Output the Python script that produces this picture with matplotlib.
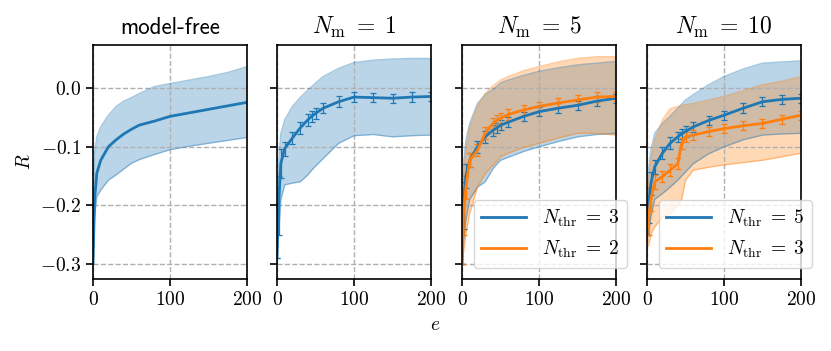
import numpy as np
import matplotlib
matplotlib.use("Agg")
import matplotlib.pyplot as plt

plt.rcParams["mathtext.fontset"] = "cm"
plt.rcParams["font.family"] = "serif"
plt.rcParams["font.serif"] = ["cmr10", "DejaVu Serif"]
plt.rcParams["axes.formatter.use_mathtext"] = True
plt.rcParams["axes.unicode_minus"] = True

E = [0, 2, 5, 10, 20, 30, 40, 45, 50, 60, 80, 100, 125, 150, 175, 200]

# model-free
mf_mean = [-0.30, -0.19, -0.145, -0.123, -0.100, -0.088, -0.078, -0.074, -0.070, -0.063, -0.056, -0.048, -0.042, -0.036, -0.030, -0.024]
mf_up = [-0.30, -0.11, -0.083, -0.066, -0.046, -0.031, -0.022, -0.019, -0.016, -0.009, 0.003, 0.008, 0.014, 0.020, 0.027, 0.037]
mf_lo = [-0.30, -0.22, -0.185, -0.174, -0.157, -0.148, -0.138, -0.133, -0.128, -0.122, -0.113, -0.105, -0.099, -0.094, -0.089, -0.084]

# N_m = 1
m1_mean = [-0.29, -0.20, -0.128, -0.103, -0.085, -0.068, -0.054, -0.048, -0.043, -0.034, -0.023, -0.015, -0.016, -0.017, -0.015, -0.014]
m1_err = [0.0, 0.05, 0.025, 0.012, 0.010, 0.010, 0.010, 0.010, 0.010, 0.009, 0.009, 0.008, 0.008, 0.008, 0.008, 0.008]
m1_up = [-0.29, -0.13, -0.077, -0.054, -0.031, -0.016, -0.003, 0.003, 0.009, 0.020, 0.034, 0.044, 0.048, 0.050, 0.051, 0.051]
m1_lo = [-0.29, -0.25, -0.19, -0.165, -0.162, -0.160, -0.148, -0.140, -0.133, -0.120, -0.094, -0.081, -0.079, -0.083, -0.081, -0.080]

# N_m = 5 (thr 3 blue, thr 2 orange)
m5a_mean = [-0.30, -0.20, -0.150, -0.123, -0.100, -0.083, -0.072, -0.068, -0.063, -0.058, -0.048, -0.040, -0.034, -0.029, -0.022, -0.017]
m5a_up = [-0.30, -0.13, -0.089, -0.060, -0.026, -0.011, -0.002, 0.003, 0.009, 0.014, 0.022, 0.029, 0.035, 0.040, 0.043, 0.046]
m5a_lo = [-0.30, -0.26, -0.226, -0.190, -0.169, -0.160, -0.138, -0.130, -0.123, -0.118, -0.108, -0.100, -0.091, -0.083, -0.079, -0.077]
m5b_mean = [-0.30, -0.21, -0.170, -0.123, -0.106, -0.077, -0.060, -0.055, -0.051, -0.045, -0.037, -0.031, -0.025, -0.020, -0.015, -0.014]
m5b_up = [-0.30, -0.15, -0.106, -0.066, -0.031, -0.009, 0.004, 0.009, 0.014, 0.020, 0.030, 0.037, 0.045, 0.051, 0.054, 0.054]
m5b_lo = [-0.30, -0.28, -0.250, -0.214, -0.169, -0.146, -0.132, -0.125, -0.117, -0.111, -0.101, -0.094, -0.085, -0.077, -0.077, -0.080]
m5_err = [0.0, 0.04, 0.02, 0.012, 0.010, 0.010, 0.009, 0.009, 0.009, 0.009, 0.008, 0.008, 0.008, 0.008, 0.008, 0.008]

# N_m = 10 (thr 5 blue, thr 3 orange)
m10a_mean = [-0.25, -0.20, -0.163, -0.134, -0.111, -0.094, -0.083, -0.078, -0.074, -0.066, -0.055, -0.046, -0.034, -0.023, -0.019, -0.017]
m10a_up = [-0.25, -0.14, -0.106, -0.077, -0.060, -0.048, -0.034, -0.027, -0.020, -0.011, 0.006, 0.020, 0.033, 0.043, 0.045, 0.047]
m10a_lo = [-0.25, -0.25, -0.220, -0.190, -0.180, -0.169, -0.157, -0.150, -0.143, -0.129, -0.112, -0.100, -0.088, -0.080, -0.078, -0.077]
m10b_mean = [-0.25, -0.22, -0.190, -0.160, -0.151, -0.140, -0.129, -0.094, -0.083, -0.080, -0.074, -0.069, -0.064, -0.060, -0.053, -0.046]
m10b_up = [-0.25, -0.16, -0.123, -0.089, -0.054, -0.035, -0.031, -0.029, -0.028, -0.026, -0.020, -0.014, -0.004, 0.006, 0.012, 0.020]
m10b_lo = [-0.25, -0.27, -0.250, -0.237, -0.220, -0.214, -0.200, -0.190, -0.157, -0.140, -0.135, -0.131, -0.127, -0.123, -0.117, -0.111]
m10_err = [0.0, 0.03, 0.02, 0.012, 0.010, 0.010, 0.009, 0.009, 0.009, 0.009, 0.008, 0.008, 0.008, 0.008, 0.008, 0.008]

C0, C1 = "#1f77b4", "#ff7f0e"
EB = dict(lw=2, elinewidth=0.9, capsize=2.5, capthick=0.9)


def band(ax, up, lo, color):
    ax.fill_between(E, lo, up, color=color, alpha=0.3, lw=0)
    ax.plot(E, up, color=color, alpha=0.4, lw=1)
    ax.plot(E, lo, color=color, alpha=0.4, lw=1)


fig = plt.figure(figsize=(8.31, 3.51), dpi=100)
lefts = [93, 277, 462, 647]
axes = []
for i, l in enumerate(lefts):
    ax = fig.add_axes([l / 831, 72 / 351, 154 / 831, 234 / 351],
                      sharey=axes[0] if axes else None)
    axes.append(ax)

ax = axes[0]
band(ax, mf_up, mf_lo, C0)
ax.plot(E, mf_mean, color=C0, lw=2)
ax.set_title("model-free", family="cmss10", fontsize=16.5, pad=8)
ax.set_ylabel("$R$", fontsize=14)

ax = axes[1]
band(ax, m1_up, m1_lo, C0)
ax.errorbar(E, m1_mean, yerr=m1_err, color=C0, **EB)
ax.set_title(r"$N_\mathrm{m}\;=\;1$", fontsize=17, pad=8)

ax = axes[2]
band(ax, m5a_up, m5a_lo, C0)
band(ax, m5b_up, m5b_lo, C1)
ax.errorbar(E, m5a_mean, yerr=m5_err, color=C0, label=r"$N_\mathrm{thr}\;=\;3$", **EB)
ax.errorbar(E, m5b_mean, yerr=m5_err, color=C1, label=r"$N_\mathrm{thr}\;=\;2$", **EB)
ax.set_title(r"$N_\mathrm{m}\;=\;5$", fontsize=17, pad=8)

ax = axes[3]
band(ax, m10a_up, m10a_lo, C0)
band(ax, m10b_up, m10b_lo, C1)
ax.errorbar(E, m10a_mean, yerr=m10_err, color=C0, label=r"$N_\mathrm{thr}\;=\;5$", **EB)
ax.errorbar(E, m10b_mean, yerr=m10_err, color=C1, label=r"$N_\mathrm{thr}\;=\;3$", **EB)
ax.set_title(r"$N_\mathrm{m}\;=\;10$", fontsize=17, pad=8)

for i, ax in enumerate(axes):
    ax.set_xlim(0, 200)
    ax.set_xticks([0, 100, 200])
    ax.set_ylim(-0.326, 0.074)
    ax.set_yticks([0.0, -0.1, -0.2, -0.3])
    ax.grid(True, ls="--", color="#b0b0b0", lw=1)
    ax.tick_params(labelsize=14, width=1.2, length=5)
    for s in ax.spines.values():
        s.set_linewidth(1.2)
    if i > 0:
        ax.tick_params(labelleft=False)
    if i >= 2:
        handles, labels = ax.get_legend_handles_labels()
        handles = [h[0] for h in handles]
        ax.legend(handles, labels, loc="lower right", bbox_to_anchor=(1.07, 0.047),
                  borderaxespad=0, fontsize=14, handlelength=2.3, framealpha=0.8)

fig.text(435 / 831, 1 - 325 / 351, "$e$", fontsize=14, ha="center", va="center")

fig.savefig("out.png", dpi=100)
